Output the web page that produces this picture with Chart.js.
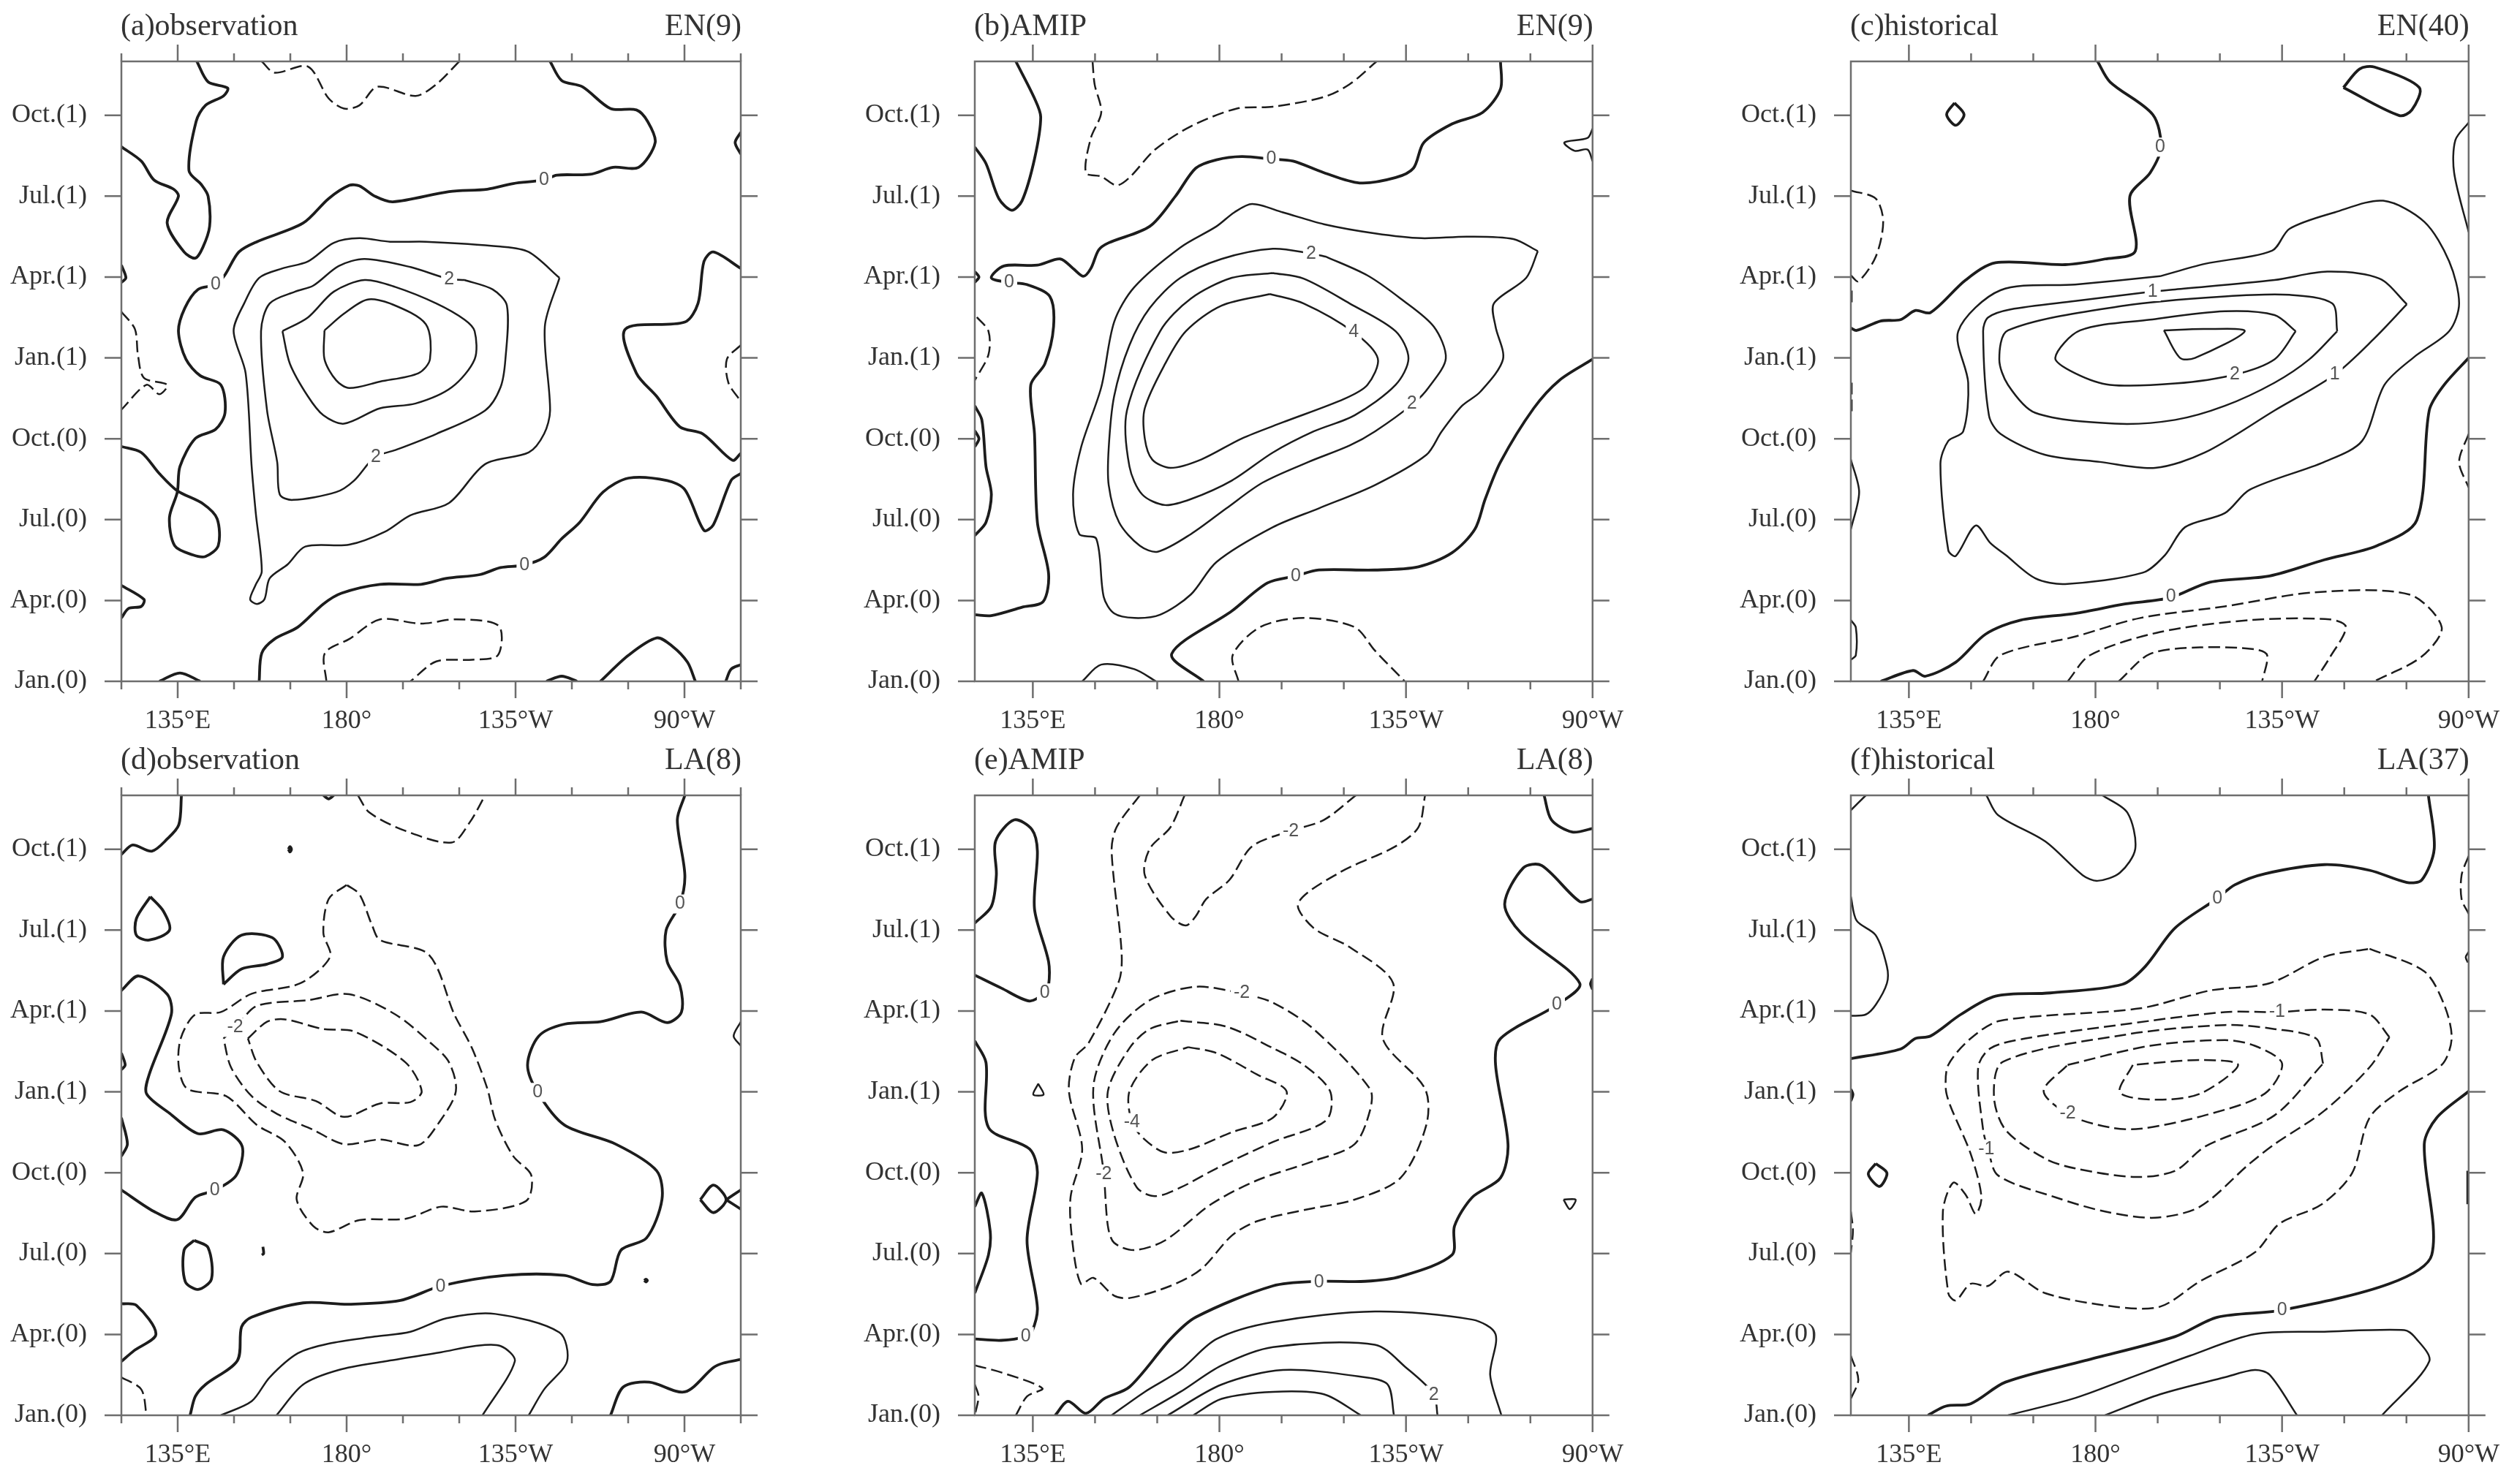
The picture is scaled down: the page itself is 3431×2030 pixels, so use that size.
<!DOCTYPE html>
<html>
<head>
<meta charset="utf-8">
<title>Hovmoller composites</title>
<script src="https://cdn.jsdelivr.net/npm/chart.js@4"></script>
<style>
  html, body { margin: 0; background: #fff; overflow: hidden; width: 3431px; height: 2030px; }
  canvas { position: absolute; }
</style>
</head>
<body>
<script>
// every contour is a flat list: lon (degrees east), months since Jan.(0), lon, months, ...
const loop = (p) => p.concat(p.slice(0, 2));

const monthTicks = [0, 3, 6, 9, 12, 15, 18, 21];
const monthLabels = ["Jan.(0)", "Apr.(0)", "Jul.(0)", "Oct.(0)", "Jan.(1)", "Apr.(1)", "Jul.(1)", "Oct.(1)"];
const lonTicksWide = [120, 135, 150, 165, 180, 195, 210, 225, 240, 255, 270, 285];
const lonTicks = [135, 150, 165, 180, 195, 210, 225, 240, 255, 270];
const lonMajor = [135, 180, 225, 270];
const lonLabels = ["135°E", "180°", "135°W", "90°W"];

// (a) observation EN(9)
const aThick = [
  [140.1,23, 143.1,22.24, 148.3,22.01, 147.2,21.72, 142.4,21.37, 139.9,20.77, 138,18.95, 141.3,18.43, 143.1,18, 143.5,16.88, 141.7,16.1, 139.7,15.7, 136.7,15.93, 132.2,17, 135.2,18, 133.9,18.26, 128.7,18.6, 125.3,19.3, 120,19.83],
  [234.2,23, 237.3,22.29, 242.8,22.06, 250.3,21.25, 257.2,21.2, 260.2,20.77, 262.2,19.99, 257.8,19.07, 251,19.07, 244.9,18.81, 236,18.78, 232.6,18.6, 224.4,18.47, 217.5,18.26, 207.3,18.17, 192.3,17.79, 187.5,18, 183.4,18.38, 180.7,18.4, 175.2,17.91, 168.4,17, 156.1,16.31, 151.3,15.93, 147.5,15.06, 145.1,14.72, 140.4,14.54, 136.9,13.85, 135.2,12.99, 137.2,11.95, 141,11.34, 146.5,11, 147.6,9.96, 145.1,9.35, 139.7,9.01, 135.6,7.97, 134.9,7.02, 132.8,6.07, 134.2,5.03, 139,4.69, 142.4,4.63, 145.8,5.03, 145.5,6.03, 141.7,6.59, 134.9,7.07, 130.1,7.71, 125.3,8.49, 120,8.71],
  [285,15.32, 277.7,15.93, 275.2,15.58, 273.6,14.02, 270.1,13.33, 254.2,13.06, 257.2,11.43, 262.6,10.57, 268.8,9.44, 274.9,9.18, 282.8,8.2, 285,8.46],
  [156.7,0, 157.4,1.05, 160.8,1.57, 167,2.01, 173.8,2.87, 178.6,3.27, 188.9,3.6, 199.8,3.6, 206.6,3.82, 215.5,3.96, 221,4.22, 227.1,4.31, 232.6,4.6, 237.3,5.29, 242.1,5.9, 248.3,7.02, 255.1,7.54, 265.4,7.45, 270.1,7.11, 275.2,5.6, 277.7,5.81, 282.4,7.45, 285,7.71],
  [247.6,0, 255.1,0.97, 262.6,1.61, 266.7,1.31, 270.8,0.71, 272.9,0],
  [130.1,0, 135.6,0.31, 141,0],
  [233.2,0, 237.3,0.19, 241.4,0],
  [281,0, 282.4,0.45, 285,0.62],
  [120,3.56, 126,3.04, 125.3,2.78, 121.9,2.7, 120,2.35],
  [285,20.37, 283.5,19.99, 285,19.56],
  [120,15.44, 121.2,14.97, 120,14.8],
];
const aThin = [
  loop([236.7,14.97, 228.5,15.93, 221,16.13, 201.1,16.31, 191.6,16.31, 183.4,16.44, 176.6,16.27, 169.7,15.58, 162.9,15.32, 156.7,14.97, 152.7,14.02, 149.9,12.99, 153.1,11.43, 154.7,7.97, 155.8,6.24, 157.4,4.08, 155.7,3.56, 154.3,3.04, 156.1,2.87, 158.1,3.04, 159.5,3.82, 164.3,4.34, 169,5, 180.7,5.07, 190.2,5.55, 197,6.16, 207.3,6.62, 216.9,8.06, 228.5,8.49, 232.6,9.18, 234.2,10.05, 232.8,13.16]),
  loop([211.4,14.89, 218.9,14.54, 222.7,13.94, 222.3,11.95, 221,10.91, 216.9,10.05, 203.9,9.18, 193,8.58, 187.5,8.32, 182,7.45, 177.2,7.02, 165.6,6.73, 162.2,6.93, 161.5,8.14, 158.8,10.05, 157.2,12.99, 159.5,14.02, 166.3,14.46, 171.1,14.68, 177.9,15.41, 184.8,15.67, 197,15.37, 206.9,14.94]),
  loop([162.9,12.99, 169.7,13.5, 176.6,14.46, 184.8,14.89, 193,14.63, 203.9,14.02, 211.4,13.42, 214.1,12.99, 214.1,11.95, 208,10.91, 198.4,10.31, 188.9,10.13, 179.3,9.56, 173.8,9.87, 169.7,10.57, 164.9,11.78]),
  loop([174.1,13.02, 179.3,13.64, 185.4,14.16, 191.6,14.02, 201.1,13.25, 202.2,11.95, 199.1,11.43, 188.9,11.12, 180.7,10.88, 177.2,11.17, 174.1,11.95]),
];
const aDash = [
  [157.4,23, 160.8,22.58, 169.7,22.81, 175.2,21.63, 179.3,21.25, 183.4,21.37, 188.2,22.06, 198.4,21.72, 203.9,22.15, 210,23],
  [120,13.71, 123.6,13.07, 124.4,12.12, 126,11.26, 132.2,11, 130.1,10.65, 126.7,11, 120,10.08],
  [174.6,0, 174.2,1.05, 180.7,1.57, 188.9,2.3, 199.8,2.14, 209.3,2.3, 220.5,2.06, 220.3,0.97, 213.4,0.8, 203.9,0.74, 197,0],
  [285,12.47, 281.3,11.95, 281.7,11.08, 285,10.39],
];
const aText = [[145.1,14.72,"0"], [207.3,14.92,"2"], [232.6,18.6,"0"], [187.8,8.32,"2"], [227.4,4.31,"0"]];

// (b) AMIP EN(9)
const bThick = [
  [130.9,23, 135.4,21.63, 136.9,20.94, 135.4,19.38, 132.4,17.83, 129.9,17.48, 126.8,17.91, 123.7,19.21, 121,19.82],
  [247.8,23, 247.8,21.98, 243.5,21.11, 236.1,20.68, 229.3,19.99, 226.8,19.04, 222.5,18.69, 213.8,18.49, 205.2,18.87, 197.8,19.3, 192.5,19.38, 185.4,19.47, 179.3,19.35, 174.3,19.04, 169.4,18, 163.2,16.88, 153.3,16.27, 150.9,16.01, 149,15.32, 147.2,15.03, 144.7,15.32, 141.6,15.67, 136.1,15.44, 128,15.41, 125,14.97, 129.3,14.8, 133.6,14.72, 139.1,14.28, 140,13.16, 137.9,11.78, 134.5,11, 135.4,9.18, 136.1,5.9, 138.8,3.99, 137.5,2.96, 132.4,2.75, 125,2.44, 121,2.47],
  [121,10.22, 122.7,9.7, 123.7,7.97, 125,6.93, 123.7,5.9, 121,5.41],
  [270,11.95, 262,11.17, 255.8,10.13, 247.8,8.14, 244.1,6.76, 241.6,5.64, 236.1,4.77, 228,4.25, 217.5,4.13, 204,4.13, 198.4,3.91, 191.6,3.65, 183,2.61, 168.5,1.02, 176.2,0],
  [121,15.2, 122,15, 121,14.8],
  [121,9.3, 122,9, 121,8.7],
];
const bThin = [
  loop([256.8,15.96, 250.9,16.41, 239.8,16.5, 228.7,16.44, 217.5,16.62, 205.2,16.96, 195.3,17.4, 187.9,17.71, 183.6,17.4, 179.3,16.88, 170.6,16.1, 159.5,14.63, 154.6,13.33, 151.5,10.91, 146.6,8.66, 144.7,6.93, 146.2,5.46, 150.3,5.29, 152.1,3.13, 154.6,2.52, 159.5,2.35, 165.7,2.47, 173.1,3.22, 179.3,4.43, 192.9,5.72, 204,6.42, 217.5,7.28, 229.9,8.4, 233.6,9.27, 238.5,10.22, 242.9,10.74, 248.4,11.95, 246.6,13.16, 246.2,14.02, 254,14.97]),
  loop([205.8,15.75, 215.7,15.06, 223.7,14.2, 231.7,13.16, 234.6,11.98, 230.5,10.91, 226.8,10.31, 217.5,9.27, 211.4,8.75, 201.5,8.14, 190.4,7.37, 181.7,6.42, 173.1,5.46, 165.1,4.81, 160.8,5.03, 155.8,5.9, 153.3,7.28, 153.3,8.66, 154.6,10.57, 158.3,12.47, 163.2,13.85, 170.6,14.97, 180.5,15.67, 192.9,16.05, 202.1,15.87]),
  loop([192.9,15.15, 200.3,14.94, 211.4,14.02, 222.5,12.99, 225.6,11.98, 222.5,11, 212.6,9.87, 202.7,9.27, 192.9,8.49, 183,7.45, 173.1,6.76, 166.9,6.54, 161.4,6.93, 158.3,7.97, 157.7,10.05, 165.7,12.99, 173.1,14.2, 183,14.97]),
  loop([192.2,14.37, 200.3,14.02, 212.4,12.95, 218.2,11.98, 215.7,11, 210.1,10.48, 195.3,9.61, 185.4,9.01, 175.6,8.23, 168.2,7.92, 163.8,8.23, 162,9.01, 162,10.13, 166.9,11.78, 171.9,12.99, 180.5,13.94]),
  [146.9,0, 151.5,0.62, 159.5,0.45, 164.7,0],
  [270,20.5, 268.8,20.16, 263.2,19.99, 265.7,19.68, 268.8,19.73, 270,19.3],
];
const bDash = [
  [149.4,23, 149.9,22.15, 151.5,21.11, 149,20.16, 147.8,18.87, 151.5,18.73, 155.2,18.4, 158.3,18.69, 164.5,19.73, 173.1,20.59, 184.2,21.25, 192.9,21.32, 205.2,21.68, 211.4,22.15, 217.9,23],
  [121.5,13.51, 124.3,12.99, 124.3,12.12, 121,11.17],
  [184.6,0, 183.2,0.97, 189.8,2.01, 200.3,2.35, 212.6,2.01, 217.5,1.14, 224.7,0],
];
const bText = [[192.5,19.38,"0"], [202.1,15.87,"2"], [212.4,12.95,"4"], [226.4,10.31,"2"], [129.3,14.8,"0"], [198.4,3.91,"0"]];

// (c) historical EN(40)
const cThick = [
  [180.5,23, 183.5,22.24, 193.8,21.03, 195.8,19.82, 193.2,18.87, 188.3,18, 189.6,15.96, 182.3,15.67, 172.7,15.46, 155.9,15.53, 148.7,14.89, 140.2,13.68, 136.6,13.76, 133,13.42, 128.2,13.37, 122.4,13.02, 121,13.11],
  loop([146,21.46, 148.3,21.03, 146.3,20.63, 144.1,21.03]),
  loop([239.8,22.03, 243.7,22.72, 247.3,22.79, 258.1,22.03, 256.3,21.2, 253.3,20.99]),
  [128.2,0, 136,0.4, 139,0.19, 146.3,0.71, 153.5,1.75, 161.9,2.27, 175.1,2.52, 187.1,2.87, 198,3.1, 207.6,3.68, 222,3.91, 235.2,4.51, 247.9,5.03, 257.5,5.98, 260.5,10.05, 264.1,11, 270,12],
];
const cThin = [
  loop([195.6,15.03, 206.4,15.49, 222.6,15.98, 226.8,16.79, 237.7,17.4, 249.4,17.83, 259.3,17.05, 265.3,15.58, 267.7,14.02, 265.3,12.99, 256.9,12.04, 249.7,11, 244.3,8.92, 235.2,8.14, 217.2,7.11, 211.2,6.24, 201.6,5.72, 196.8,4.69, 191.4,4.03, 172.7,3.61, 165.5,3.82, 158.3,4.69, 154.7,5.12, 151.1,5.78, 146.3,4.65, 144.5,4.86, 142.6,8.06, 144.5,8.92, 148.1,9.27, 149.3,11.08, 146.9,12.99, 157.1,14.51, 175.1,14.72]),
  loop([255.1,13.99, 248.5,14.94, 235.9,15.2, 223.2,14.89, 199.2,14.54, 193.8,14.46, 175.1,14.11, 159.5,13.8, 154.1,13.5, 152.9,12.99, 154.3,9.87, 157.1,9.18, 167.9,8.4, 181.1,8.14, 194.4,7.92, 206.4,8.49, 223.2,10.05, 237.7,11.38, 247.3,12.73]),
  loop([238.3,12.99, 237.1,14.02, 226.8,14.34, 211.2,14.28, 187.1,13.94, 158.9,13.02, 156.8,11.95, 158.9,11, 165.5,9.96, 184.7,9.56, 199.2,9.7, 211.2,10.22, 223.2,11.08, 231.6,11.95]),
  loop([228.3,12.99, 223.2,13.59, 211.2,13.73, 193.2,13.42, 176.3,13.02, 170.3,12, 175.1,11.43, 183.5,11, 199.2,11.05, 213.6,11.38, 223.2,11.95]),
  loop([196.5,13.02, 206.4,13.07, 216,12.99, 204,12, 200.4,12]),
  [270,20.73, 266.8,20.08, 266.5,18.87, 270,16.67],
  [121,8.23, 123,7.02, 121,5.64],
  [121,2.27, 122.2,2, 122.2,0.97, 121,0.8],
];
const cDash = [
  [121,18.21, 127,17.91, 128.8,17.05, 127,15.75, 122.8,14.84, 121,15.06],
  [121.2,14.5, 121.2,13.94],
  [121.2,11.08, 121.2,9.96],
  [270,9.18, 267.7,8.14, 270,7.19],
  [152.9,0, 157.1,0.97, 175.1,1.66, 190.8,2.35, 211.2,2.78, 232.8,3.3, 255.7,3.22, 263.5,2.01, 258.7,0.92, 247.3,0],
  [173.3,0, 178.7,0.97, 195.6,1.83, 217.2,2.27, 236.5,2.3, 240.4,2.01, 236.5,0.88, 232.8,0],
  [185.6,0, 193.2,1.02, 205.2,1.26, 218.4,1.19, 221.4,0.97, 220.2,0],
];
const cText = [[195.6,19.82,"0"], [193.8,14.46,"1"], [213.6,11.38,"2"], [237.7,11.38,"1"], [198.2,3.13,"0"]];

// (d) observation LA(8)
const dThick = [
  [136,23, 135.3,21.91, 132.2,21.38, 128.1,20.93, 123,21.16, 120,20.81],
  [270.1,23, 268.1,22.09, 270.1,20.04, 268.8,18.97, 265.1,17.99, 265.4,16.83, 268.8,15.94, 269.2,14.96, 265.4,14.57, 258.5,14.96, 247.6,14.6, 238,14.51, 231.2,14.07, 228.2,13, 230.9,11.98, 238,10.77, 251.7,10.06, 262.6,9.07, 264,8, 259.9,6.58, 253.1,6.13, 250.3,4.97, 245.5,4.85, 238,5.19, 222.3,5.19, 205.2,4.8, 194.3,4.26, 180.7,4.12, 168.4,4.17, 154.7,3.64, 152,3.28, 150.9,2.03, 142.4,1.14, 139.7,0.7, 138.3,0],
  [120,15.76, 124.6,16.3, 132.2,15.62, 133.3,14.87, 127.4,12.64, 126.7,11.93, 132.8,11.21, 140.4,10.45, 147.2,10.59, 152.2,9.97, 150.6,8.9, 145.1,8.36, 139.7,8.09, 134.9,7.26, 128.7,7.56, 120,8.36],
  loop([127.7,19.24, 131.2,18.7, 132.8,17.99, 127.4,17.63, 124,17.81, 124,18.43]),
  loop([147.2,15.99, 147.2,17.01, 152,17.81, 160.2,17.72, 162.9,17.01, 158.8,16.74, 152,16.56]),
  loop([139.4,6.49, 143.1,6.22, 144,5.06, 140.4,4.67, 137,4.97, 136.7,6.13]),
  loop([164.5,21, 164.9,21.1, 165.3,21, 164.9,20.9]),
  loop([259.3,5, 259.7,5.05, 260.1,5, 259.7,4.95]),
  [157.7,6.25, 157.9,6, 157.4,5.95],
  [173.8,23, 175.2,22.87, 176.6,23],
  loop([274.2,8, 277.7,8.54, 281.1,8, 277.7,7.52]),
  [281.1,8, 285,8.36],
  [281.1,8, 285,7.65],
  [120,13.44, 121,13, 120,12.82],
  [120,11.04, 121.6,10.06, 120,9.61],
  [120,4.14, 124,4.08, 129.2,3.01, 123.3,2.39, 120,2],
  [250.3,0, 253.7,1.05, 260.6,1.23, 270.1,0.87, 277.7,1.77, 280.4,1.94, 285,2.07],
];
const dThin = [
  [146.5,0, 154.7,0.52, 159.5,1.41, 167,2.3, 175.2,2.66, 187.5,2.92, 197,3.1, 206.6,3.6, 219.6,3.76, 236.7,3.07, 238.7,2, 232.6,0.96, 228.5,0],
  [161.3,0, 168.4,1.14, 177.9,1.68, 190.2,2, 205.2,2.34, 214.1,2.57, 221,2.57, 224.8,2, 216.2,0],
  [285,14.6, 283.1,14.07, 285,13.71],
];
const dDash = [
  [183,23, 186.1,22.36, 195.7,21.68, 208,21.25, 212.8,22, 216.9,23],
  loop([180,19.68, 175.2,19.15, 173.8,17.9, 175.6,17.01, 167.7,16.03, 154.7,15.64, 146.5,14.96, 139.7,14.87, 135.8,13.98, 135.3,12.91, 137.6,12.11, 147.9,11.84, 156.1,10.77, 163.6,10.14, 168.4,8.99, 166.7,8, 171.1,7.02, 175.2,6.79, 183.4,7.24, 195.7,7.29, 205.2,7.74, 214.1,7.56, 227.8,7.95, 229.2,8.9, 224.4,9.61, 219.6,10.95, 217.5,12.11, 213.4,13.62, 208.7,14.87, 201.8,17.1, 188.9,17.63, 186.8,18.17, 183.4,19.33]),
  loop([147.2,13.98, 150.6,14.42, 156.1,15.19, 169.7,15.4, 180.7,15.62, 193,14.87, 202.5,13.8, 207.3,13.09, 209.1,12.02, 204.6,10.86, 199.1,10.02, 188.9,10.23, 179.3,10.06, 171.1,10.59, 161.5,11.18, 154.7,11.84, 149.2,12.91]),
  loop([153.7,13.98, 158.8,14.6, 163.6,14.69, 173.8,14.33, 182,14.24, 195.7,13.09, 200,12.02, 197,11.62, 188.9,11.57, 179.3,11.07, 171.8,11.66, 162.2,12.02, 156.1,13.09]),
  [120,1.41, 125.3,0.96, 126.7,0],
];
const dText = [[268.8,18.97,"0"], [150.3,14.39,"-2"], [230.9,11.98,"0"], [144.9,8.36,"0"], [205,4.76,"0"]];

// (e) AMIP LA(8)
const eThick = [
  [121,18.26, 125,18.88, 126.2,20.04, 126,21.29, 130.5,22.09, 134.8,21.73, 136.1,20.93, 135.4,18.79, 138.8,16.83, 138.8,15.94, 137.9,15.67, 134.2,15.37, 127.4,15.85, 121,16.33],
  [121,13.89, 123.7,13.09, 124.3,10.68, 134.2,9.88, 136.1,8.99, 133.6,6.49, 136.1,3.99, 134.8,3.1, 133.3,2.92, 127.4,2.78, 121,2.83],
  [121,4.53, 124.3,5.95, 124.7,6.85, 122.7,8.24, 121,7.74],
  [270,19.15, 266.9,19.06, 257.7,20.4, 253.3,20.31, 248.8,18.97, 252.7,17.9, 266.9,16.03, 261.4,15.23, 247.8,13.98, 246.6,13, 249.6,10.06, 247.8,8.81, 241,8.09, 236.7,7.02, 236.1,5.95, 223.7,5.15, 215.1,4.97, 204,4.97, 192.9,4.8, 174.3,3.64, 168.2,2.83, 158.3,1.05, 152.1,0.61, 147.8,0.07, 143.5,0.52, 140.4,0],
  [258.3,23, 260.1,22.09, 265.1,21.64, 270,21.77],
  [270,16.2, 269.5,16, 270,15.8],
];
const eThin = [
  loop([136.3,12.3, 137.6,11.9, 135.1,11.9]),
  loop([263,8, 265.9,8, 264.5,7.65]),
  [248,0, 245.3,1.5, 246.6,3.01, 241,3.55, 217.5,3.85, 192.9,3.46, 179.3,2.83, 170.6,1.68, 162,0.87, 154,0],
  [232.6,0, 231.7,0.78, 225,1.77, 217.5,2.62, 192.9,2.53, 180.5,1.85, 170.6,0.87, 160.8,0],
  [222.1,0, 220.6,1.14, 215.1,1.41, 195.3,1.68, 180.5,1.14, 167.5,0],
  [214.1,0, 205.2,0.78, 192.9,0.87, 180.5,0.61, 173.7,0],
];
const eDash = [
  [160.8,23, 155.2,21.82, 154,20.93, 156.4,17.19, 155.8,16.12, 148.4,13.8, 145.1,13.26, 143.7,12.02, 146.9,9.88, 144.1,8.09, 144.5,6.49, 146.6,4.88, 149.6,5.1, 154.6,4.44, 158.3,4.35, 168.2,4.8, 175.6,5.42, 183,6.67, 189.1,7.2, 201.5,7.65, 212.6,8, 223.7,8.81, 229.9,10.77, 229.6,12.11, 219.4,13.98, 221.9,16.03, 211.4,17.37, 202.7,18.08, 199,19, 208.9,20.13, 222.5,21.11, 228,21.82, 229.6,23],
  [171.6,23, 168.2,21.82, 163.2,21.02, 162,20.04, 168.2,18.52, 171.9,18.17, 174.3,18.52, 176.8,19.15, 182.4,19.86, 187.9,21.11, 197.2,21.68, 205.2,22.09, 212.9,23],
  loop([185.4,15.67, 174.3,15.9, 163.2,15.4, 154.6,14.16, 149.6,12.19, 152.1,8.99, 153.1,7.02, 154.6,6.4, 159.5,6.13, 166.9,6.49, 178,7.83, 189.1,8.72, 202.7,9.43, 212.6,10.06, 216.3,11.3, 216.3,12.11, 202.7,14.33, 192.9,15.31]),
  loop([170.6,14.64, 181.7,14.42, 192.9,13.62, 200.3,13, 206.7,12.02, 205.8,10.95, 192.9,10.14, 179.3,9.16, 170.6,8.45, 164.5,8.13, 160.1,8.45, 154.6,10.41, 153.1,12.02, 158.3,13.62, 163.2,14.33]),
  loop([172.5,13.66, 179.3,13.44, 189.1,12.64, 196.2,12.02, 192.9,11.04, 183,10.5, 173.1,9.88, 166.9,9.75, 162,10.23, 158.9,10.86, 158.3,12.02, 163.8,13.18]),
  [121,1.85, 127.4,1.59, 137.3,1, 133.6,0.7, 130.9,0],
  [121,1.14, 121.9,0.7, 121,0],
];
const eText = [[197.2,21.68,"-2"], [137.9,15.67,"0"], [185.4,15.67,"-2"], [261.4,15.23,"0"], [158.9,10.86,"-4"], [152.1,8.95,"-2"], [204,4.94,"0"], [133.3,2.92,"0"], [231.7,0.75,"2"]];

// (f) historical LA(37)
const fThick = [
  [260.3,23, 261.7,21.02, 258.7,19.86, 255.1,19.77, 246.1,20.22, 235.2,20.43, 220.8,20.09, 213.6,19.68, 209.4,19.18, 199.2,18.08, 192,16.65, 186.5,15.99, 169.1,15.67, 155.9,15.55, 147.5,14.87, 140.2,14.07, 136.6,13.98, 133,13.59, 121,13.23],
  loop([127,9.34, 129.7,8.99, 127.9,8.49, 125.2,8.95]),
  [270,12.02, 262.3,11.04, 259.3,10.06, 261.1,5.95, 250.9,4.88, 225,3.9, 209.4,3.64, 199.2,2.92, 177.5,2.03, 158.3,1.23, 149.9,0.43, 143.9,0.34, 139.6,0],
  [121,12.1, 121.5,11.9, 121,11.66],
  [269.8,9.07, 269.8,7.83],
];
const fThin = [
  [121,22.45, 124.6,23],
  [153.7,23, 156.5,22.27, 167.9,21.29, 176.9,20.04, 180.5,19.83, 185.9,20.13, 189.6,21.02, 187.7,22.36, 181.7,23],
  [121,19.24, 122.4,18.35, 127,17.81, 129.7,16.65, 129.7,16.03, 127,15.23, 124.6,14.87, 121,14.82],
  [158.9,0, 175.1,0.64, 187.1,1.32, 202.8,2.21, 218.4,3.01, 235.2,3.1, 254.5,3.16, 256.9,2.92, 260.5,2, 249.1,0],
  [182.3,0, 195.6,0.78, 211.2,1.41, 218.4,1.68, 222,1.5, 228.6,0],
];
const fDash = [
  [270,20.75, 268.3,20.04, 268.3,19.15, 270,18.61],
  [270,17.19, 269.3,17, 270,16.74],
  [121,7.56, 121.5,6.85, 121,6.04],
  [121,2.21, 122.8,1.32, 121,0.61],
  loop([246.1,17.31, 259.3,16.47, 264.1,15.23, 265.9,13.98, 263.5,13, 253.3,12.02, 246.1,11.04, 241.9,8.99, 234.6,7.83, 224.4,7.11, 218.4,6.04, 205.2,4.97, 195.6,4.03, 184.7,4.03, 167.9,4.53, 158.9,5.33, 154.1,4.8, 149.9,4.88, 146.3,4.26, 144.5,4.53, 143.2,7.56, 145.7,8.63, 148.7,8.18, 151.1,7.47, 152.5,8.09, 149.9,9.7, 145,11.48, 143.9,12.11, 144.5,13, 149.9,13.98, 157.1,14.64, 190.8,15.1, 207.6,15.76, 222,16.03, 235.2,17.01]),
  loop([250.9,14.03, 246.1,14.87, 235.2,15.05, 223.8,14.96, 211.2,14.96, 187.1,14.51, 163.1,13.98, 154.7,13.62, 151.7,12.91, 152.9,10.59, 154.1,9.88, 156.5,8.9, 170.3,8.09, 182.3,7.56, 194.4,7.33, 205.2,7.74, 217.2,9.34, 223.2,10.06, 235.2,11.3, 246.1,12.91]),
  loop([234.9,13.05, 233.2,13.98, 223.2,14.33, 211.2,14.48, 187.1,14.12, 157.7,13.12, 155.5,11.84, 158.3,10.59, 167.9,9.52, 175.1,9.16, 189.6,8.84, 199.2,9.07, 206.4,9.97, 223.2,11.13]),
  loop([173.3,13, 193.2,13.71, 211.2,13.92, 218.4,13.71, 225,13.05, 220.8,11.93, 206.4,11.13, 190.8,10.63, 183.5,10.68, 173.9,11.13, 167.5,12.02]),
  loop([189,13, 185.9,11.98, 194.4,11.71, 205.2,11.93, 214.4,13, 205.2,13.18]),
];
const fText = [[209.4,19.18,"0"], [223.8,14.96,"-1"], [173.3,11.21,"-2"], [153.7,9.88,"-1"], [225,3.9,"0"]];

const panelNames = ["(a)observation", "(b)AMIP", "(c)historical", "(d)observation", "(e)AMIP", "(f)historical"];
const panelTags = ["EN(9)", "EN(9)", "EN(40)", "LA(8)", "LA(8)", "LA(37)"];
const panelThick = [aThick, bThick, cThick, dThick, eThick, fThick];
const panelThin = [aThin, bThin, cThin, dThin, eThin, fThin];
const panelDash = [aDash, bDash, cDash, dDash, eDash, fDash];
const panelText = [aText, bText, cText, dText, eText, fText];
const panelLonMin = [120, 121, 121, 120, 121, 121];
const panelLonMax = [285, 270, 270, 285, 270, 270];
const panelTicks = [lonTicksWide, lonTicks, lonTicks, lonTicksWide, lonTicks, lonTicks];

const plotLeft = [166, 1333, 2531];
const canvasTop = [0, 1004];
const padLeft = 166, padTop = 84, padRight = 50, padBottom = 90;
const plotW = 847, plotH = 848;
const serif = "'Liberation Serif', 'Times New Roman', serif";
const axisColor = "#6e6e6e";
const inkColor = "#1c1c1c";

function toPoints(flat) {
  const pts = [];
  for (let i = 0; i < flat.length; i += 2) pts.push({ x: flat[i], y: flat[i + 1] });
  return pts;
}

function contourSets(lines, width, dash) {
  return lines.map((l) => ({
    data: toPoints(l),
    showLine: true,
    pointRadius: 0,
    borderColor: inkColor,
    borderWidth: width,
    borderDash: dash,
    tension: 0.3,
    fill: false,
  }));
}

// frame, outward ticks, contour labels and the two panel headings
const panelDecor = {
  id: "panelDecor",
  afterDatasetsDraw(chart, args, opts) {
    const { ctx, scales } = chart;
    ctx.save();
    ctx.font = "25px 'Liberation Sans', Arial, sans-serif";
    ctx.textAlign = "center";
    ctx.textBaseline = "middle";
    opts.text.forEach((t) => {
      const px = scales.x.getPixelForValue(t[0]);
      const py = scales.y.getPixelForValue(t[1]);
      const w = ctx.measureText(t[2]).width + 8;
      ctx.fillStyle = "#fff";
      ctx.fillRect(px - w / 2, py - 13, w, 26);
      ctx.fillStyle = "#555";
      ctx.fillText(t[2], px, py);
    });
    ctx.restore();
  },
  afterDraw(chart, args, opts) {
    const { ctx, chartArea: a, scales } = chart;
    ctx.save();
    ctx.strokeStyle = axisColor;
    ctx.lineWidth = 2.5;
    ctx.strokeRect(a.left, a.top, a.right - a.left, a.bottom - a.top);
    ctx.beginPath();
    opts.lonTicks.forEach((v) => {
      const px = scales.x.getPixelForValue(v);
      const len = lonMajor.includes(v) ? 23 : 11;
      ctx.moveTo(px, a.top);
      ctx.lineTo(px, a.top - len);
      ctx.moveTo(px, a.bottom);
      ctx.lineTo(px, a.bottom + len);
    });
    monthTicks.forEach((v) => {
      const py = scales.y.getPixelForValue(v);
      ctx.moveTo(a.left, py);
      ctx.lineTo(a.left - 23, py);
      ctx.moveTo(a.right, py);
      ctx.lineTo(a.right + 23, py);
    });
    ctx.stroke();
    ctx.fillStyle = "#333";
    ctx.font = "42px " + serif;
    ctx.textBaseline = "middle";
    ctx.textAlign = "left";
    ctx.fillText(opts.name, a.left - 1, a.top - 47);
    ctx.textAlign = "right";
    ctx.fillText(opts.tag, a.right + 1, a.top - 47);
    ctx.restore();
  },
};

panelNames.forEach((name, i) => {
  const col = i % 3, row = Math.floor(i / 3);
  const canvas = document.createElement("canvas");
  canvas.width = padLeft + plotW + padRight;
  canvas.height = padTop + plotH + padBottom;
  canvas.style.left = plotLeft[col] - padLeft + "px";
  canvas.style.top = canvasTop[row] + "px";
  canvas.style.width = canvas.width + "px";
  canvas.style.height = canvas.height + "px";
  document.body.appendChild(canvas);

  new Chart(canvas, {
    type: "scatter",
    plugins: [panelDecor],
    data: {
      datasets: [
        ...contourSets(panelThick[i], 3.8, []),
        ...contourSets(panelThin[i], 2.5, []),
        ...contourSets(panelDash[i], 2.5, [16, 7]),
      ],
    },
    options: {
      responsive: false,
      animation: false,
      devicePixelRatio: 1,
      layout: { padding: { top: padTop, right: padRight, left: 0, bottom: 0 } },
      plugins: {
        legend: { display: false },
        tooltip: { enabled: false },
        panelDecor: { name: name, tag: panelTags[i], text: panelText[i], lonTicks: panelTicks[i] },
      },
      scales: {
        x: {
          type: "linear",
          min: panelLonMin[i],
          max: panelLonMax[i],
          afterFit(s) { s.height = padBottom; },
          afterBuildTicks(s) { s.ticks = panelTicks[i].map((v) => ({ value: v })); },
          border: { display: false },
          grid: { drawOnChartArea: false, tickLength: 23, tickColor: "transparent" },
          ticks: {
            autoSkip: false,
            maxRotation: 0,
            padding: 10,
            color: "#333",
            font: { family: serif, size: 36 },
            callback(v) {
              const k = lonMajor.indexOf(v);
              return k < 0 ? "" : lonLabels[k];
            },
          },
        },
        y: {
          type: "linear",
          min: 0,
          max: 23,
          afterFit(s) { s.width = padLeft; },
          afterBuildTicks(s) { s.ticks = monthTicks.map((v) => ({ value: v })); },
          border: { display: false },
          grid: { drawOnChartArea: false, tickLength: 23, tickColor: "transparent" },
          ticks: {
            autoSkip: false,
            padding: 24,
            color: "#333",
            font: { family: serif, size: 36 },
            callback(v) { return monthLabels[monthTicks.indexOf(v)]; },
          },
        },
      },
    },
  });
});
</script>
</body>
</html>
